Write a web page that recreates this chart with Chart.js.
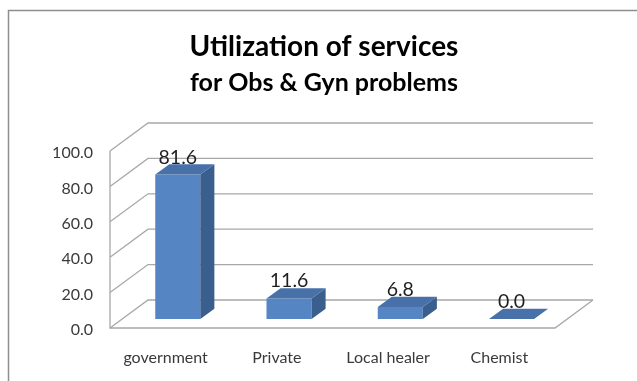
<!DOCTYPE html>
<html>
<head>
<meta charset="utf-8">
<script src="https://cdn.jsdelivr.net/npm/chart.js@4.4.0/dist/chart.umd.min.js"></script>
<style>
  html, body { margin: 0; padding: 0; background: #fff; overflow: hidden; }
  canvas { display: block; }
</style>
</head>
<body>
<canvas id="chart" width="637" height="381"></canvas>
<script>
// Survey results: where women went for obstetric & gynaecological problems (%)
const categories = ['government', 'Private', 'Local healer', 'Chemist'];
const utilization = [81.6, 11.6, 6.8, 0.0];
const tickValues = [0, 20, 40, 60, 80, 100];
const titleText = 'Utilization of services';
const subtitleText = 'for Obs & Gyn problems';

// Depth of the 3D box: vector from the front edge of the floor to the back wall
const WALL_DX = 38, WALL_DY = -28;
const BAR_FRONT = 0.32;   // share of the depth in front of the bars
const BAR_DEPTH = 0.37;   // share of the depth taken by each bar

const FRONT_COLOR = '#5585C2';
const TOP_COLOR = '#4771A8';
const SIDE_COLOR = '#3A5E8D';
const GRID_COLOR = '#A8A8A8';

const box3d = {
  id: 'box3d',
  beforeDraw(chart) {
    const ctx = chart.ctx;
    ctx.save();
    ctx.fillStyle = '#fff';
    ctx.fillRect(0, 0, chart.width, chart.height);
    // outer frame (left and top edges)
    ctx.strokeStyle = '#8E8E8E';
    ctx.lineWidth = 1.5;
    ctx.beginPath();
    ctx.moveTo(8.5, chart.height);
    ctx.lineTo(8.5, 10.5);
    ctx.lineTo(chart.width, 10.5);
    ctx.stroke();
    ctx.restore();
  },
  beforeDatasetsDraw(chart) {
    const { ctx, chartArea: a, scales: { y } } = chart;
    ctx.save();
    ctx.strokeStyle = GRID_COLOR;
    ctx.lineWidth = 1.3;
    // side-wall diagonals and back-wall gridlines
    tickValues.forEach(v => {
      const py = y.getPixelForValue(v);
      ctx.beginPath();
      ctx.moveTo(a.left, py);
      ctx.lineTo(a.left + WALL_DX, py + WALL_DY);
      ctx.lineTo(a.right + WALL_DX, py + WALL_DY);
      ctx.stroke();
    });
    // front-left wall edge and floor outline
    const y0 = y.getPixelForValue(0);
    const yTop = y.getPixelForValue(tickValues[tickValues.length - 1]);
    ctx.beginPath();
    ctx.moveTo(a.left, yTop);
    ctx.lineTo(a.left, y0);
    ctx.lineTo(a.right, y0);
    ctx.lineTo(a.right + WALL_DX, y0 + WALL_DY);
    ctx.stroke();
    ctx.restore();
    // push the bar front faces back into the floor depth
    ctx.save();
    ctx.translate(WALL_DX * BAR_FRONT, WALL_DY * BAR_FRONT);
  },
  afterDatasetsDraw(chart) {
    const ctx = chart.ctx;
    ctx.restore();
    const ox = WALL_DX * BAR_FRONT, oy = WALL_DY * BAR_FRONT;
    const dx = WALL_DX * BAR_DEPTH, dy = WALL_DY * BAR_DEPTH;
    const meta = chart.getDatasetMeta(0);
    ctx.save();
    meta.data.forEach((bar, i) => {
      const { x, y, base, width } = bar.getProps(['x', 'y', 'base', 'width'], true);
      const l = x - width / 2 + ox, r = x + width / 2 + ox;
      const t = y + oy, b = base + oy;
      // right side face
      ctx.fillStyle = SIDE_COLOR;
      ctx.beginPath();
      ctx.moveTo(r, t);
      ctx.lineTo(r + dx, t + dy);
      ctx.lineTo(r + dx, b + dy);
      ctx.lineTo(r, b);
      ctx.closePath();
      ctx.fill();
      // top face
      ctx.fillStyle = TOP_COLOR;
      ctx.beginPath();
      ctx.moveTo(l, t);
      ctx.lineTo(r, t);
      ctx.lineTo(r + dx, t + dy);
      ctx.lineTo(l + dx, t + dy);
      ctx.closePath();
      ctx.fill();
      // value label
      ctx.fillStyle = '#1E1E1E';
      ctx.font = '19.5px Lato';
      ctx.textAlign = 'center';
      ctx.textBaseline = 'middle';
      ctx.fillText(utilization[i].toFixed(1), x + ox, t + dy - 7);
    });
    ctx.restore();
  }
};

function draw() {
  new Chart(document.getElementById('chart'), {
    type: 'bar',
    data: {
      labels: categories,
      datasets: [{
        data: utilization,
        backgroundColor: FRONT_COLOR,
        borderWidth: 0,
        categoryPercentage: 1,
        barPercentage: 0.405
      }]
    },
    options: {
      responsive: false,
      animation: false,
      events: [],
      layout: { padding: { left: 11, right: 0, top: 0, bottom: 0 } },
      plugins: {
        legend: { display: false },
        tooltip: { enabled: false },
        title: {
          display: true,
          text: titleText,
          color: '#000',
          font: { family: 'Lato', size: 28, weight: 'bold' },
          padding: { top: 30.2, bottom: 0 }
        },
        subtitle: {
          display: true,
          text: subtitleText,
          color: '#000',
          font: { family: 'Lato', size: 25, weight: 'bold' },
          padding: { top: 4.2, bottom: 53 }
        }
      },
      scales: {
        x: {
          grid: { display: false, drawTicks: false },
          border: { display: false },
          ticks: { color: '#3A3A3A', font: { family: 'Lato', size: 16 }, padding: 20 },
          afterFit(scale) { scale.height = 53; }
        },
        y: {
          min: 0,
          max: 100,
          grid: { display: false, drawTicks: false },
          border: { display: false },
          ticks: {
            stepSize: 20,
            color: '#3A3A3A',
            font: { family: 'Lato', size: 16 },
            padding: 17,
            labelOffset: 2,
            callback: v => Number(v).toFixed(1)
          },
          afterFit(scale) { scale.width = 99; }
        },
        // empty right-hand axis: room for the back wall drawn in depth
        depth: {
          type: 'linear',
          position: 'right',
          display: true,
          grid: { display: false, drawTicks: false },
          border: { display: false },
          ticks: { display: false },
          afterFit(scale) { scale.width = 82; }
        }
      }
    },
    plugins: [box3d]
  });
}

Promise.all([
  document.fonts.load('bold 28px Lato'),
  document.fonts.load('16px Lato')
]).then(draw, draw);
</script>
</body>
</html>
